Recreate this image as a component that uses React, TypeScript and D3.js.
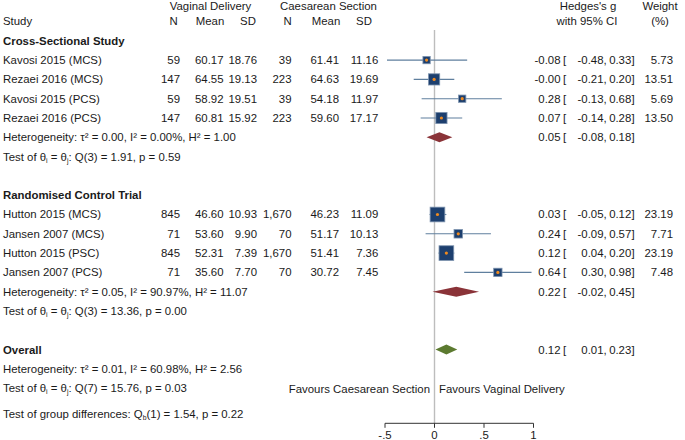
import React from "react";
import * as d3 from "d3";

const studies = [
  "Kavosi 2015 (MCS)", "Rezaei 2016 (MCS)", "Kavosi 2015 (PCS)", "Rezaei 2016 (PCS)",
  "Hutton 2015 (MCS)", "Jansen 2007 (MCS)", "Hutton 2015 (PSC)", "Jansen 2007 (PCS)",
];
const nV = [59, 147, 59, 147, 845, 71, 845, 71];
const meanV = [60.17, 64.55, 58.92, 60.81, 46.6, 53.6, 52.31, 35.6];
const sdV = [18.76, 19.13, 19.51, 15.92, 10.93, 9.9, 7.39, 7.7];
const nC = [39, 223, 39, 223, 1670, 70, 1670, 70];
const meanC = [61.41, 64.63, 54.18, 59.6, 46.23, 51.17, 51.41, 30.72];
const sdC = [11.16, 19.69, 11.97, 17.17, 11.09, 10.13, 7.36, 7.45];
const g = [-0.08, -0.004, 0.28, 0.07, 0.03, 0.24, 0.12, 0.64];
const lo = [-0.48, -0.21, -0.13, -0.14, -0.05, -0.09, 0.04, 0.3];
const hi = [0.33, 0.2, 0.68, 0.28, 0.12, 0.57, 0.2, 0.98];
const weight = [5.73, 13.51, 5.69, 13.5, 23.19, 7.71, 23.19, 7.48];
const studyRow = [1, 2, 3, 4, 9, 10, 11, 12];

const groupNames = ["Cross-Sectional Study", "Randomised Control Trial", "Overall"];
const groupRow = [0, 8, 16];
const sumG = [0.05, 0.22, 0.12];
const sumLo = [-0.08, -0.02, 0.01];
const sumHi = [0.18, 0.45, 0.23];
const sumRow = [5, 13, 16];
const hetTau = ["0.00", "0.05", "0.01"];
const hetI = ["0.00", "90.97", "60.98"];
const hetH = ["1.00", "11.07", "2.56"];
const hetRow = [5, 13, 17];
const qDf = [3, 3, 7];
const qVal = ["1.91", "13.36", "15.76"];
const qP = ["0.59", "0.00", "0.03"];
const qRow = [6, 14, 18];
const axisTicks = [-0.5, 0, 0.5, 1];
const tickLabels = ["-.5", "0", ".5", "1"];

const FONT = "'Liberation Sans', Arial, Helvetica, sans-serif";
const FS = 11.4;
const TXT = "#1a1a1a";

const f2 = (v: number) => (v < 0 ? "-" : "") + Math.abs(v).toFixed(2);
const fN = d3.format(",");

export default function App() {
  const x = d3.scaleLinear().domain([-0.5, 1]).range([385, 533.5]);
  const y = (k: number) => 40.8 + 19.3 * k;
  const axisY = 423.3;
  const sq = d3.scaleSqrt().domain([0, 23.19]).range([0, 14.7]);

  const T = (props: any) => (
    <text fontFamily={FONT} fontSize={FS} fill={TXT} dy="0.35em" {...props} />
  );

  const ci = (k: number, e: number, l: number, h: number, key: string) => (
    <g key={key}>
      <T x={560.5} y={y(k)} textAnchor="end">{f2(e)}</T>
      <T x={563} y={y(k)}>[</T>
      <T x={603.5} y={y(k)} textAnchor="end">{f2(l)}</T>
      <T x={603.6} y={y(k)}>,</T>
      <T x={631.3} y={y(k)} textAnchor="end">{f2(h)}</T>
      <T x={631.5} y={y(k)}>]</T>
    </g>
  );

  const sub = (s: string) => (
    <tspan fontSize={FS * 0.6} baselineShift="-25%">{s}</tspan>
  );

  return (
    <svg width={685} height={440} style={{ position: "absolute", left: 0, top: 0 }}>
      <rect width={685} height={440} fill="#fff" />
      {/* headers */}
      <T x={210.5} y={5.5} textAnchor="middle">Vaginal Delivery</T>
      <T x={328.5} y={5.5} textAnchor="middle">Caesarean Section</T>
      <T x={588} y={5.5} textAnchor="middle">Hedges's g</T>
      <T x={660} y={5.5} textAnchor="middle">Weight</T>
      <T x={3} y={21} >Study</T>
      <T x={173.5} y={21} textAnchor="middle">N</T>
      <T x={210} y={21} textAnchor="middle">Mean</T>
      <T x={248} y={21} textAnchor="middle">SD</T>
      <T x={287.5} y={21} textAnchor="middle">N</T>
      <T x={326} y={21} textAnchor="middle">Mean</T>
      <T x={364} y={21} textAnchor="middle">SD</T>
      <T x={587} y={21} textAnchor="middle">with 95% CI</T>
      <T x={660} y={21} textAnchor="middle">(%)</T>

      {/* zero line */}
      <line x1={x(0)} x2={x(0)} y1={30} y2={axisY} stroke="#bdbdbd" strokeWidth={1.4} />

      {/* group titles */}
      {groupNames.map((n, i) => (
        <T key={n} x={3} y={y(groupRow[i])} fontWeight="bold">{n}</T>
      ))}

      {/* studies */}
      {studies.map((s, i) => {
        const k = studyRow[i];
        const side = sq(weight[i]);
        return (
          <g key={s}>
            <T x={3} y={y(k)}>{s}</T>
            <T x={180} y={y(k)} textAnchor="end">{fN(nV[i])}</T>
            <T x={223.5} y={y(k)} textAnchor="end">{meanV[i].toFixed(2)}</T>
            <T x={257} y={y(k)} textAnchor="end">{sdV[i].toFixed(2)}</T>
            <T x={291.5} y={y(k)} textAnchor="end">{fN(nC[i])}</T>
            <T x={339} y={y(k)} textAnchor="end">{meanC[i].toFixed(2)}</T>
            <T x={378.3} y={y(k)} textAnchor="end">{sdC[i].toFixed(2)}</T>
            <line x1={x(lo[i])} x2={x(hi[i])} y1={y(k)} y2={y(k)} stroke="#5f7f9e" strokeWidth={1.1} />
            <rect x={x(g[i]) - side / 2} y={y(k) - side / 2} width={side} height={side}
              fill="#1d3f6e" stroke="#7d93ae" strokeWidth={0.8} />
            <circle cx={x(g[i])} cy={y(k)} r={1.6} fill="#ee8a1f" />
            {ci(k, g[i], lo[i], hi[i], "ci" + i)}
            <T x={673} y={y(k)} textAnchor="end">{weight[i].toFixed(2)}</T>
          </g>
        );
      })}

      {/* summary diamonds */}
      {sumG.map((v, i) => {
        const k = sumRow[i];
        const cy = y(k);
        const pts = [
          [x(sumLo[i]), cy], [x(v), cy - 5], [x(sumHi[i]), cy], [x(v), cy + 5],
        ].map((p) => p.join(",")).join(" ");
        return (
          <g key={"d" + i}>
            <polygon points={pts} fill={i < 2 ? "#8a3338" : "#5c7a30"} />
            {ci(k, v, sumLo[i], sumHi[i], "sci" + i)}
          </g>
        );
      })}

      {/* heterogeneity & tests */}
      {hetRow.map((k, i) => (
        <T key={"h" + i} x={3} y={y(k)}>
          {`Heterogeneity: τ² = ${hetTau[i]}, I² = ${hetI[i]}%, H² = ${hetH[i]}`}
        </T>
      ))}
      {qRow.map((k, i) => (
        <T key={"q" + i} x={3} y={y(k)}>
          Test of θ{sub("i")} = θ{sub("j")}: Q({qDf[i]}) = {qVal[i]}, p = {qP[i]}
        </T>
      ))}
      <T x={3} y={414}>
        Test of group differences: Q{sub("b")}(1) = 1.54, p = 0.22
      </T>

      {/* favours */}
      <T x={430} y={388.7} textAnchor="end">Favours Caesarean Section</T>
      <T x={439} y={388.7}>Favours Vaginal Delivery</T>

      {/* axis */}
      <line x1={x(-0.5)} x2={x(1)} y1={axisY} y2={axisY} stroke="#333" strokeWidth={1} />
      {axisTicks.map((t, i) => (
        <g key={"t" + i}>
          <line x1={x(t)} x2={x(t)} y1={axisY} y2={axisY + 4.5} stroke="#333" strokeWidth={1} />
          <T x={x(t)} y={435.5} textAnchor="middle">{tickLabels[i]}</T>
        </g>
      ))}
    </svg>
  );
}
